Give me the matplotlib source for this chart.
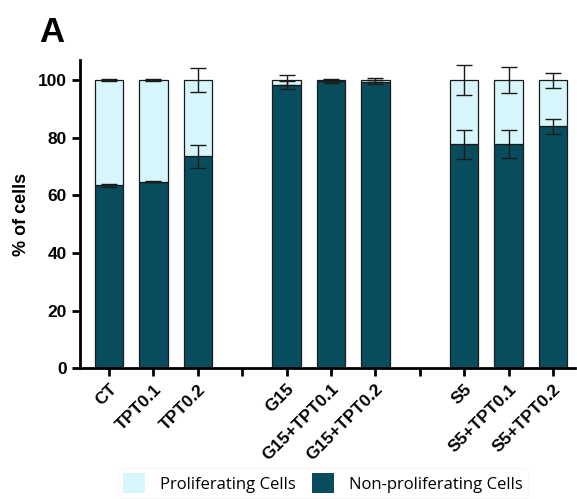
import matplotlib

matplotlib.use("Agg")
import matplotlib.pyplot as plt
import numpy as np
from matplotlib.patches import Patch

# data (% of cells)
groups = ["CT", "TPT0.1", "TPT0.2", "G15", "G15+TPT0.1", "G15+TPT0.2",
          "S5", "S5+TPT0.1", "S5+TPT0.2"]
positions = [0, 1, 2, 4, 5, 6, 8, 9, 10]
non_prolif = [63.5, 64.8, 73.6, 98.3, 99.5, 99.3, 77.7, 77.8, 83.9]
non_prolif_err = [0.5, 0.3, 4.0, 1.5, 0.5, 0.7, 5.1, 4.7, 2.7]
total = [100] * 9
prolif_err = [0.3, 0.3, 4.1, 1.7, 0.5, 0.6, 5.2, 4.6, 2.6]

DARK = "#084d5e"
LIGHT = "#d7f6fb"

plt.rcParams["font.family"] = ["Liberation Sans", "DejaVu Sans"]

fig = plt.figure(figsize=(5.77, 4.99), dpi=100)
ax = fig.add_axes([0.139, 0.262, 0.858, 0.618])

x = np.array(positions)
prolif = np.array(total) - np.array(non_prolif)
w = 0.64
ax.bar(x, non_prolif, w, color=DARK, edgecolor="#1a1a1a", linewidth=0.9, zorder=2)
ax.bar(x, prolif, w, bottom=non_prolif, color=LIGHT, edgecolor="#1a1a1a",
       linewidth=0.9, zorder=2)
ax.errorbar(x, non_prolif, yerr=non_prolif_err, fmt="none", ecolor="#1a1a1a",
            elinewidth=1.0, capsize=5.5, capthick=1.0, zorder=3)
ax.errorbar(x, total, yerr=prolif_err, fmt="none", ecolor="#1a1a1a",
            elinewidth=1.0, capsize=5.5, capthick=1.0, zorder=3)

ax.set_xlim(-0.65, 10.5)
ax.set_ylim(0, 107)
ax.set_yticks([0, 20, 40, 60, 80, 100])
ax.set_xticks(list(range(11)))
labels = [""] * 11
for p, g in zip(positions, groups):
    labels[p] = g
ax.set_xticklabels(labels, rotation=45, ha="right", rotation_mode="anchor",
                   fontsize=12.5, fontweight="bold")
for t in ax.get_yticklabels():
    t.set_fontsize(12.5)
    t.set_fontweight("bold")
ax.tick_params(axis="both", width=2, length=6, color="black")
for s in ["top", "right"]:
    ax.spines[s].set_visible(False)
for s in ["left", "bottom"]:
    ax.spines[s].set_linewidth(2)
ax.set_ylabel("% of cells", fontsize=13, fontweight="bold", labelpad=6)

fig.text(0.068, 0.935, "A", fontsize=25, fontweight="bold", ha="left", va="center")

handles = [Patch(facecolor=LIGHT, edgecolor="none"), Patch(facecolor=DARK, edgecolor="none")]
leg = fig.legend(handles, ["Proliferating Cells", "Non-proliferating Cells"],
                 loc="center", bbox_to_anchor=(0.56, 0.032), ncol=2, frameon=True,
                 prop={"family": "Open Sans", "size": 12}, handlelength=1.3,
                 handleheight=1.4, handletextpad=0.9, columnspacing=1.0, borderpad=0.3)
leg.get_frame().set_edgecolor("#f0f0f0")
leg.get_frame().set_linewidth(0.5)

fig.savefig("out.png", dpi=100)
